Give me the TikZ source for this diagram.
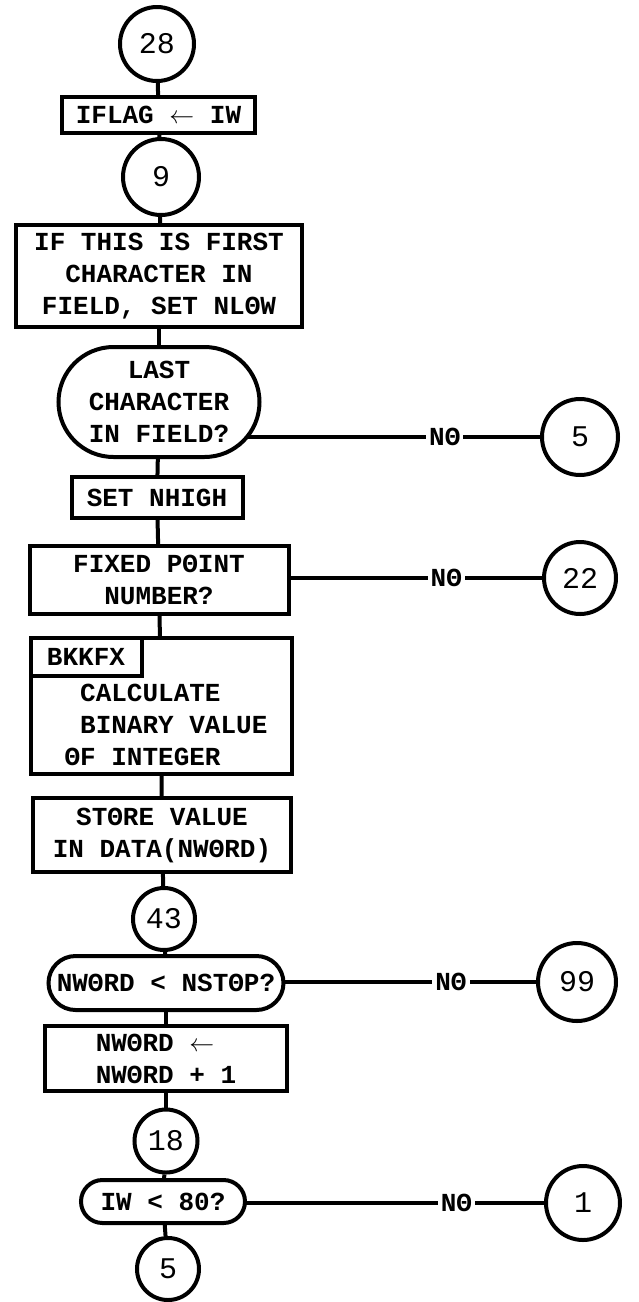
\documentclass[tikz,border=0pt]{standalone}
\usepackage{fontspec}
\setmonofont{Liberation Mono}
\usetikzlibrary{shapes.misc,backgrounds}

\begin{document}
\begin{tikzpicture}[x=1pt,y=-1pt,line width=4pt,
                    every edge/.style={draw,line width=4pt},
                    every node/.style={font=\ttfamily\bfseries\fontsize{26}{32}\selectfont}]
  \tikzstyle{proc}=[draw,fill=white,inner sep=0pt,align=center]
  \tikzstyle{test}=[draw,fill=white,rounded rectangle,inner sep=0pt,align=center]
  \tikzstyle{conn}=[draw,fill=white,circle,inner sep=0pt,font=\ttfamily\fontsize{30}{30}\selectfont]
  \tikzstyle{no}=[fill=white,inner sep=3pt]

  \useasboundingbox (0,0) rectangle (638,1302);

  \node[conn,minimum size=74pt] (c28) at (157,44) {28};
  \node[proc,minimum width=193pt,minimum height=36pt] (iflag) at (158.5,115) {IFLAG \(\leftarrow\) IW};
  \node[conn,minimum size=76pt] (c9) at (161,177) {9};
  \node[proc,minimum width=286pt,minimum height=102pt] (first) at (159,276)
       {IF THIS IS FIRST\\CHARACTER IN\\FIELD, SET NLΘW};
  \node[test,minimum width=201pt,minimum height=110pt] (last) at (159,402)
       {LAST\\CHARACTER\\ IN FIELD?};
  \node[proc,minimum width=171pt,minimum height=41pt] (nhigh) at (157,497.5) {SET NHIGH};
  \node[proc,minimum width=259pt,minimum height=68pt] (fixed) at (159,580)
       {FIXED PΘINT\\NUMBER?};
  \node[proc,minimum width=261pt,minimum height=136pt] (calc) at (161,706) {};
  \node[draw,anchor=north west,inner sep=0pt,minimum width=111pt,minimum height=38pt]
       (bkkfx) at (calc.north west) {BKKFX};
  \node[align=left,inner sep=0pt] (calctext) at ([xshift=5pt,yshift=-19pt]calc.center)
       {\phantom{Θ}CALCULATE\\\phantom{Θ}BINARY VALUE\\ΘF INTEGER};
  \node[proc,minimum width=258pt,minimum height=74pt] (store) at (162,835)
       {STΘRE VALUE\\IN DATA(NWΘRD)};
  \node[conn,minimum size=62pt] (c43) at (164,919) {43};
  \node[test,minimum width=235pt,minimum height=54pt] (nstop) at (166,983) {NWΘRD < NSTΘP?};
  \node[proc,minimum width=242pt,minimum height=65pt,align=left] (incr) at (166,1058.5)
       {NWΘRD \(\leftarrow\)\\NWΘRD + 1};
  \node[conn,minimum size=63pt] (c18) at (166,1141) {18};
  \node[test,minimum width=164pt,minimum height=43pt] (iw) at (163,1201.5) {IW < 80?};
  \node[conn,minimum size=62pt] (c5b) at (168,1269) {5};

  % exits
  \node[conn,minimum size=76pt] (c5) at (580,437) {5};
  \node[conn,minimum size=72pt] (c22) at (580,578) {22};
  \node[conn,minimum size=78pt] (c99) at (577,982) {99};
  \node[conn,minimum size=74pt] (c1) at (583,1203) {1};

  \begin{scope}[on background layer,line width=4pt]
    \path (c28) edge (iflag)
          (iflag) edge (c9)
          (c9) edge (first)
          (first) edge (last)
          (last) edge (nhigh)
          (nhigh) edge (fixed)
          (fixed) edge (calc)
          (calc) edge (store)
          (store) edge (c43)
          (c43) edge (nstop)
          (nstop) edge (incr)
          (incr) edge (c18)
          (c18) edge (iw)
          (iw) edge (c5b);
    \path (last.center |- c5) edge node[no,pos=0.75] {NΘ} (c5)
          (fixed.center |- c22) edge node[no,pos=0.75] {NΘ} (c22)
          (nstop.center |- c99) edge node[no,pos=0.77] {NΘ} (c99)
          (iw.center |- c1) edge node[no,pos=0.77] {NΘ} (c1);
  \end{scope}
\end{tikzpicture}
\end{document}
